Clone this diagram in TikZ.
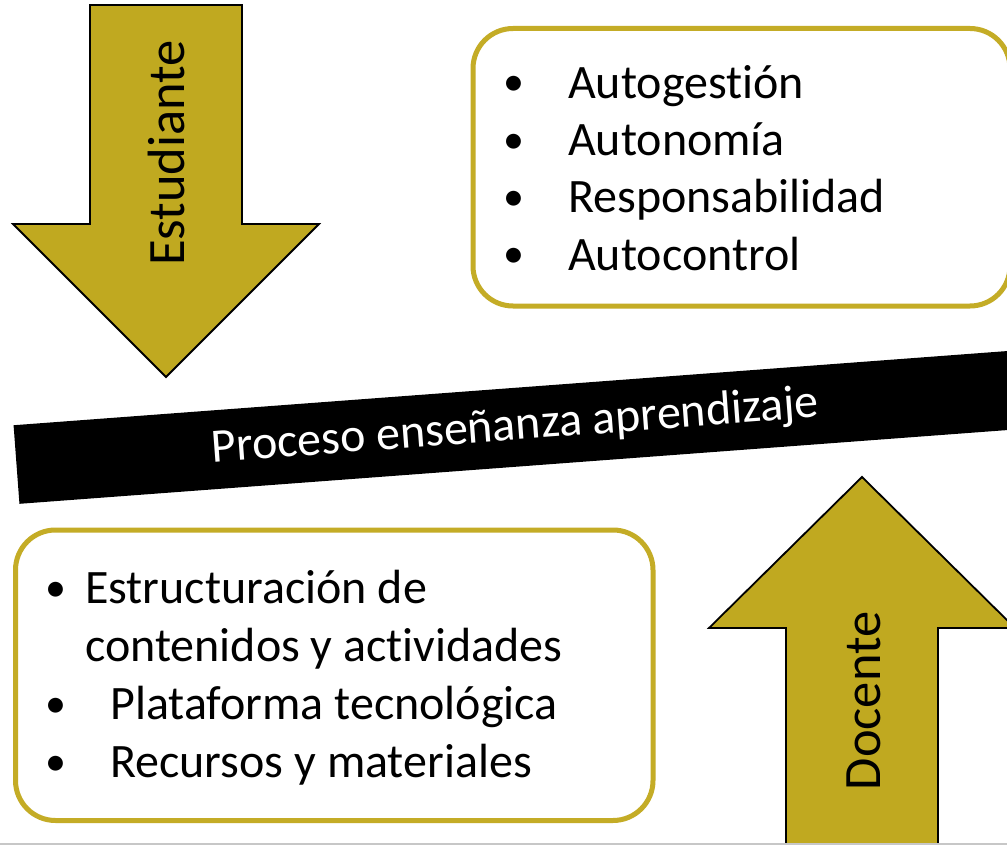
\documentclass[tikz,border=0pt]{standalone}
\usepackage{fontspec}
\setmainfont{Carlito}[Ligatures=NoCommon]
\definecolor{gold}{RGB}{192,169,32}
\definecolor{boxgold}{RGB}{196,172,38}
\begin{document}
\begin{tikzpicture}[x=1pt,y=-1pt,
  arrowshape/.style={fill=gold,draw=black,line width=1.8pt,line join=miter},
  listbox/.style={draw=boxgold,line width=5pt,rounded corners=40pt,fill=white,inner sep=0pt},
  item/.style={anchor=base west,inner sep=0pt,font=\fontsize{48}{56}\selectfont},
  bullet/.style={anchor=base,inner sep=0pt,font=\fontsize{42}{56}\selectfont},
  arrowlabel/.style={rotate=90,inner sep=0pt,font=\fontsize{52.5}{60}\selectfont}
]
\useasboundingbox (0,0) rectangle (1007,845);
\clip (0,0) rectangle (1007,845);
\fill[white] (0,0) rectangle (1007,845);

% Estudiante arrow (down)
\draw[arrowshape] (90,5) -- (242,5) -- (242,224) -- (319,224) -- (166,377) -- (13,224) -- (90,224) -- cycle;
\node[arrowlabel] (stud) at (166,153) {Estudiante};

% Docente arrow (up)
\draw[arrowshape] (786,870) -- (786,628) -- (709,628) -- (862,477) -- (1015,628) -- (938,628) -- (938,870) -- cycle;
\node[arrowlabel] (doc) at (864,701) {Docente};

% top-right box
\node[listbox,minimum width=537pt,minimum height=277.5pt] (traits) at (741.5,167.25) {};
\node[bullet] (b1) at (514,96) {•};
\node[item] (t1) at (568,98.3) {Autogestión};
\node[bullet] (b2) at (514,153.3) {•};
\node[item] (t2) at (568,155.6) {Autonomía};
\node[bullet] (b3) at (514,210.6) {•};
\node[item] (t3) at (568,212.9) {Responsabilidad};
\node[bullet] (b4) at (514,267.9) {•};
\node[item] (t4) at (568,270.2) {Autocontrol};

% band
\node[fill=black,rotate=4.27,minimum width=1000pt,minimum height=78.8pt,inner sep=0pt,
      text=white,font=\fontsize{48}{56}\selectfont] (band) at (515.1,427.3) {Proceso enseñanza aprendizaje};

% bottom-left box
\node[listbox,minimum width=637.5pt,minimum height=290.5pt] (means) at (334.25,675.25) {};
\node[bullet] (c1) at (56,601) {•};
\node[item] (u1) at (85,603) {Estructuración de};
\node[item] (u1b) at (85,661) {contenidos y actividades};
\node[bullet] (c2) at (56,717) {•};
\node[item] (u2) at (110,719) {Plataforma tecnológica};
\node[bullet] (c3) at (56,775) {•};
\node[item] (u3) at (110,777) {Recursos y materiales};

% bottom edge rule
\draw[black!22,line width=2pt] (0,844) -- (1007,844);
\end{tikzpicture}
\end{document}
